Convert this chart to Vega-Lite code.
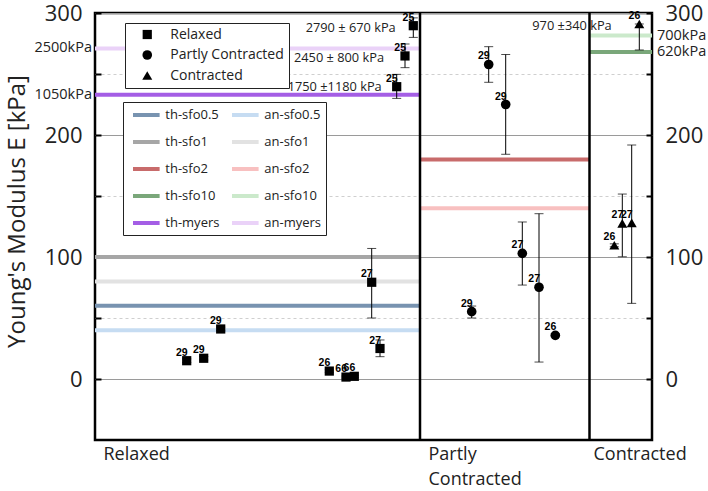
{
  "$schema": "https://vega.github.io/schema/vega-lite/v6.json",
  "width": 557,
  "height": 427,
  "autosize": {"type": "none"},
  "padding": {"left": 95, "top": 13, "right": 56, "bottom": 51},
  "background": "white",
  "config": {
    "font": "Open Sans",
    "view": {"stroke": "black", "strokeWidth": 2.5},
    "axis": {"labelColor": "#222", "titleColor": "#222"}
  },
  "datasets": {
    "points": [
      {"state": "Relaxed", "x": 91.7, "y": 15, "lo": 13.5, "hi": 16.5, "n": "29"},
      {"state": "Relaxed", "x": 108.7, "y": 17, "lo": 15.5, "hi": 18.5, "n": "29"},
      {"state": "Relaxed", "x": 125.7, "y": 41, "lo": 39.5, "hi": 42.5, "n": "29"},
      {"state": "Relaxed", "x": 234.3, "y": 6.5, "lo": 5.5, "hi": 7.5, "n": "26"},
      {"state": "Relaxed", "x": 251, "y": 1.6, "lo": 0.8, "hi": 2.4, "n": "66"},
      {"state": "Relaxed", "x": 259.3, "y": 2.2, "lo": 1.4, "hi": 3, "n": "66"},
      {"state": "Relaxed", "x": 276.7, "y": 79.3, "lo": 50, "hi": 107, "n": "27"},
      {"state": "Relaxed", "x": 285, "y": 25, "lo": 18.3, "hi": 32, "n": "27"},
      {"state": "Relaxed", "x": 301.7, "y": 239.6, "lo": 230, "hi": 249.7, "n": "25"},
      {"state": "Relaxed", "x": 310, "y": 264.8, "lo": 255.2, "hi": 274.6, "n": "25"},
      {"state": "Relaxed", "x": 318.3, "y": 289.6, "lo": 280, "hi": 296, "n": "25"},
      {"state": "Partly Contracted", "x": 376.7, "y": 55.2, "lo": 50, "hi": 59.8, "n": "29"},
      {"state": "Partly Contracted", "x": 393.7, "y": 257.8, "lo": 243.2, "hi": 272.4, "n": "29"},
      {"state": "Partly Contracted", "x": 410.7, "y": 225, "lo": 184.2, "hi": 266, "n": "29"},
      {"state": "Partly Contracted", "x": 427.3, "y": 103, "lo": 77, "hi": 128.7, "n": "27"},
      {"state": "Partly Contracted", "x": 444, "y": 75.2, "lo": 13.9, "hi": 135.5, "n": "27"},
      {"state": "Partly Contracted", "x": 460.3, "y": 35.8, "lo": 34.6, "hi": 37, "n": "26"},
      {"state": "Contracted", "x": 519.3, "y": 109.6, "lo": 108.4, "hi": 110.8, "n": "26"},
      {"state": "Contracted", "x": 527.3, "y": 127.6, "lo": 100.2, "hi": 151.6, "n": "27"},
      {"state": "Contracted", "x": 536.7, "y": 128, "lo": 62, "hi": 191.8, "n": "27"},
      {"state": "Contracted", "x": 544.3, "y": 291, "lo": 269.7, "hi": 291, "n": "26"}
    ],
    "lines": [
      {"series": "th-sfo0.5", "x1": 0, "x2": 325, "y": 60},
      {"series": "an-sfo0.5", "x1": 0, "x2": 325, "y": 40},
      {"series": "th-sfo1", "x1": 0, "x2": 325, "y": 100},
      {"series": "an-sfo1", "x1": 0, "x2": 325, "y": 80},
      {"series": "th-myers", "x1": 0, "x2": 325, "y": 233},
      {"series": "an-myers", "x1": 0, "x2": 325, "y": 271},
      {"series": "th-sfo2", "x1": 325, "x2": 494.5, "y": 180},
      {"series": "an-sfo2", "x1": 325, "x2": 494.5, "y": 140},
      {"series": "th-sfo10", "x1": 494.5, "x2": 557, "y": 268},
      {"series": "an-sfo10", "x1": 494.5, "x2": 557, "y": 281.5}
    ],
    "notes": [
      {"text": "2790 ± 670 kPa", "x": 300.7, "y": 288},
      {"text": "2450 ± 800 kPa", "x": 289, "y": 263.4},
      {"text": "1750 ±1180 kPa", "x": 286.7, "y": 239.3},
      {"text": "970 ±340 kPa", "x": 516.7, "y": 289.3}
    ],
    "leftLabels": [
      {"text": "2500kPa", "x": 0, "y": 271},
      {"text": "1050kPa", "x": 0, "y": 233}
    ],
    "rightLabels": [
      {"text": "700kPa", "x": 557, "y": 281.5},
      {"text": "620kPa", "x": 557, "y": 268}
    ],
    "dividers": [{"x": 325}, {"x": 494.5}]
  },
  "layer": [
    {
      "layer": [
        {
          "data": {"name": "lines"},
          "mark": {"type": "rule", "strokeWidth": 4},
          "encoding": {
            "x": {"field": "x1", "type": "quantitative", "scale": {"domain": [0, 557], "nice": false, "zero": false},
              "axis": {"values": [8, 333, 498], "ticks": false, "domain": false, "grid": false, "title": null,
                "labelAlign": "left", "labelBaseline": "top", "labelPadding": 5, "labelFontSize": 18, "labelLineHeight": 25,
                "labelOverlap": false, "labelBound": false, "labelFlush": false, "labelColor": "#222",
                "labelExpr": "datum.value > 300 && datum.value < 400 ? ['Partly', 'Contracted'] : (datum.value < 100 ? 'Relaxed' : 'Contracted')"}},
            "x2": {"field": "x2"},
            "y": {"field": "y", "type": "quantitative", "scale": {"domain": [-50, 300], "nice": false, "zero": false},
              "axis": {"values": [0, 50, 100, 150, 200, 250, 300], "domain": false, "title": "Young's Modulus E [kPa]",
                "titleFontSize": 24, "titleFontWeight": "normal", "titleX": -78, "titleY": 198, "titleBaseline": "middle", "titleAngle": 270,
                "labelFontSize": 22, "labelExpr": "datum.value % 100 === 0 ? datum.label : ''",
                "tickSize": -6, "tickWidth": 2, "tickColor": "black", "labelPadding": 19,
                "grid": true,
                "gridColor": {"condition": {"test": "datum.value % 100 === 0", "value": "#9a9a9a"}, "value": "#cfcfcf"},
                "gridDash": {"condition": {"test": "datum.value % 100 === 0", "value": []}, "value": [3, 3]}}},
            "color": {"field": "series", "type": "nominal",
              "scale": {"domain": ["th-sfo0.5", "an-sfo0.5", "th-sfo1", "an-sfo1", "th-sfo2", "an-sfo2", "th-sfo10", "an-sfo10", "th-myers", "an-myers"],
                "range": ["#7893b0", "#c6dcf2", "#a6a6a6", "#e2e2e2", "#c86b6b", "#f8c0c0", "#7aa77a", "#cbe9cb", "#a45ee5", "#ead2f8"]},
              "legend": {"orient": "none", "legendX": 28, "legendY": 89, "columns": 2, "direction": "horizontal", "title": null,
                "symbolType": "M-2,0H2", "symbolSize": 177, "symbolStrokeWidth": 4, "symbolOffset": 10.3,
                "labelFontSize": 13, "labelColor": "#222", "labelOffset": 10,
                "rowPadding": 10, "columnPadding": 3, "padding": 4,
                "fillColor": "white", "strokeColor": "#222"}}
          }
        },
        {
          "data": {"name": "points"},
          "mark": {"type": "rule", "color": "black", "strokeWidth": 1},
          "encoding": {
            "x": {"field": "x", "type": "quantitative"},
            "y": {"field": "lo", "type": "quantitative"},
            "y2": {"field": "hi"}
          }
        },
        {
          "data": {"name": "points"},
          "mark": {"type": "tick", "orient": "horizontal", "color": "black", "thickness": 1, "size": 9},
          "encoding": {
            "x": {"field": "x", "type": "quantitative"},
            "y": {"field": "lo", "type": "quantitative"}
          }
        },
        {
          "data": {"name": "points"},
          "mark": {"type": "tick", "orient": "horizontal", "color": "black", "thickness": 1, "size": 9},
          "encoding": {
            "x": {"field": "x", "type": "quantitative"},
            "y": {"field": "hi", "type": "quantitative"}
          }
        },
        {
          "data": {"name": "points"},
          "mark": {"type": "point", "filled": true, "opacity": 1, "color": "black"},
          "encoding": {
            "x": {"field": "x", "type": "quantitative"},
            "y": {"field": "y", "type": "quantitative"},
            "size": {"field": "state", "type": "nominal",
              "scale": {"domain": ["Relaxed", "Partly Contracted", "Contracted"], "range": [85, 100, 135]}},
            "shape": {"field": "state", "type": "nominal",
              "scale": {"domain": ["Relaxed", "Partly Contracted", "Contracted"], "range": ["square", "circle", "triangle-up"]},
              "legend": {"orient": "none", "legendX": 30, "legendY": 10, "title": null,
                "symbolFillColor": "black", "symbolStrokeColor": "black", "symbolOffset": 10.75,
                "labelFontSize": 14, "labelColor": "#222", "labelOffset": 16, "rowPadding": 4.5, "padding": 4.5,
                "fillColor": "white", "strokeColor": "#222"}}
          }
        },
        {
          "data": {"name": "points"},
          "mark": {"type": "text", "align": "right", "baseline": "bottom", "dx": 1, "dy": -3, "font": "Liberation Sans", "fontWeight": "bold", "fontSize": 10.5, "color": "black"},
          "encoding": {
            "x": {"field": "x", "type": "quantitative"},
            "y": {"field": "y", "type": "quantitative"},
            "text": {"field": "n"}
          }
        },
        {
          "data": {"name": "notes"},
          "mark": {"type": "text", "align": "right", "baseline": "middle", "fontSize": 12.8, "color": "#222"},
          "encoding": {
            "x": {"field": "x", "type": "quantitative"},
            "y": {"field": "y", "type": "quantitative"},
            "text": {"field": "text"}
          }
        },
        {
          "data": {"name": "leftLabels"},
          "mark": {"type": "text", "align": "right", "baseline": "middle", "dx": -3, "fontSize": 14.5, "color": "#222"},
          "encoding": {
            "x": {"field": "x", "type": "quantitative"},
            "y": {"field": "y", "type": "quantitative"},
            "text": {"field": "text"}
          }
        },
        {
          "data": {"name": "dividers"},
          "mark": {"type": "rule", "color": "black", "strokeWidth": 2.5},
          "encoding": {
            "x": {"field": "x", "type": "quantitative"}
          }
        }
      ]
    },
    {
      "data": {"name": "rightLabels"},
      "mark": {"type": "text", "align": "left", "baseline": "middle", "dx": 5, "fontSize": 14.5, "color": "#222"},
      "encoding": {
        "x": {"field": "x", "type": "quantitative"},
        "y": {"field": "y", "type": "quantitative", "scale": {"domain": [-50, 300], "nice": false, "zero": false},
          "axis": {"orient": "right", "values": [0, 50, 100, 150, 200, 250, 300], "domain": false, "title": null, "grid": false,
            "labelFontSize": 22, "labelExpr": "datum.value % 100 === 0 ? datum.label : ''",
            "tickSize": -6, "tickWidth": 2, "tickColor": "black", "labelPadding": 19}},
        "text": {"field": "text"}
      }
    }
  ],
  "resolve": {"scale": {"y": "independent"}}
}
